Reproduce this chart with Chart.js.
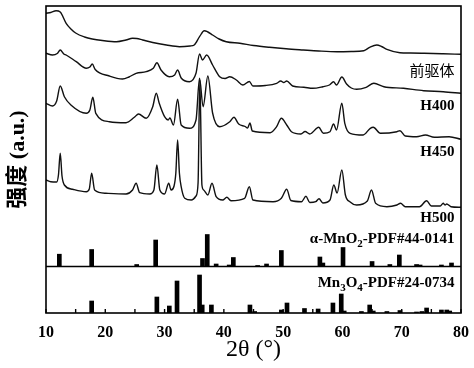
<!DOCTYPE html>
<html>
<head>
<meta charset="utf-8">
<script src="https://cdn.jsdelivr.net/npm/chart.js@4.4.0/dist/chart.umd.min.js"></script>
<style>
  body { margin: 0; background: #fff; }
  #wrap { width: 474px; height: 368px; }
</style>
</head>
<body>
<div id="wrap"><canvas id="xrd"></canvas></div>
<script>
// 2θ (deg), stacked intensity (a.u.)
const precursor = [[10.0,299.7],[10.8,300.5],[11.7,302.3],[12.4,301],[13.4,289.7],[14.2,284],[15.0,280],[16.5,276],[17.8,274],[19.5,272.5],[21.9,271.3],[23.5,273],[24.6,274.7],[25.3,274.5],[26.3,273],[28.0,270.5],[30.3,268],[32.5,266.3],[34.3,267],[35.0,268],[35.9,276.3],[36.7,282.3],[37.3,281],[38.1,278],[39.2,274],[40.4,271.3],[42.7,269.7],[45.0,267.5],[47.7,265.7],[50.5,264.2],[53.4,263],[56.0,262],[59.1,261.3],[61.5,261.5],[63.6,262.3],[64.6,265.7],[65.8,268],[66.6,266.5],[67.5,263.7],[69.7,260.3],[71.5,260],[73.8,259.7],[77.0,259.2],[80.0,258.7]];

const h400 = [[10.0,259.7],[11.1,258],[11.9,259.5],[12.4,263],[13.0,259],[13.4,258],[15.1,251.3],[16.8,244.7],[17.4,246],[17.8,249],[18.3,243.5],[20.7,237],[22.9,234],[24.0,236],[25.2,239.7],[26.9,241.3],[28.1,244.7],[28.7,250.3],[29.4,243],[30.8,236.3],[31.7,238],[32.2,243],[32.8,235],[34.2,231.3],[35.3,239.7],[35.9,259],[36.4,253],[37.1,258],[38.1,248],[39.3,236.3],[40.2,234.5],[41.0,236.3],[42.1,233],[43.2,228],[44.3,231.5],[44.9,227],[47.0,227.5],[48.9,229.7],[49.6,232],[50.1,230.5],[50.6,232],[51.6,227],[53.5,225.7],[55.0,224.7],[56.7,226.3],[57.8,228],[58.5,231.3],[59.0,228],[59.9,236],[60.7,229],[61.5,225],[62.4,223.7],[64.0,225.7],[65.3,229.7],[67.0,226.3],[70.3,224.7],[73.7,222.3],[77.0,221.3],[80.0,219.7]];

const h450 = [[10.0,209.7],[11.1,207],[11.8,212],[12.4,227],[13.1,216.3],[14.2,208],[16.8,199.7],[17.4,203],[17.9,215.7],[18.4,199.7],[20.7,191.3],[23.5,190.3],[24.9,195.7],[25.6,199],[26.9,194.7],[28.0,206.3],[28.6,219.7],[29.1,209.7],[30.0,196.3],[30.6,193],[30.9,195],[31.5,188],[32.2,213.7],[32.8,188],[34.2,184.7],[35.3,193],[35.9,234.7],[36.5,206.3],[37.3,237],[38.1,200],[39.3,186.3],[41.0,191.3],[41.7,195.7],[42.5,189],[43.6,186.5],[44.0,185],[44.4,190],[44.8,182],[47.8,180.3],[48.9,186.3],[49.7,194.7],[50.6,188],[51.4,181.3],[53.0,179],[53.7,181.5],[54.5,179],[56.0,185.7],[56.8,179.7],[57.9,181.3],[58.5,189],[59.0,183],[59.9,209.7],[60.4,189.7],[61.3,179.7],[63.5,178],[64.7,184.7],[65.2,185.7],[66.4,179.7],[69.2,181.3],[69.7,182.3],[70.6,177],[72.5,176.3],[74.0,178],[75.5,175.7],[78.0,176.3],[80.0,173.7]];

const h500 = [[10.0,133],[10.8,131.3],[11.8,131],[12.1,138],[12.4,159.7],[12.7,137],[13.1,128],[14.5,123.7],[16.8,121.3],[17.3,124],[17.7,139.7],[18.2,123],[20.1,119.7],[23.5,119],[24.6,123],[25.2,129.7],[25.8,120.3],[27.5,119],[28.2,123],[28.7,148],[29.2,123],[30.0,119],[30.7,129.7],[31.1,123],[31.6,127],[31.9,140],[32.2,173],[32.5,140],[32.8,126.3],[33.4,114.7],[34.5,113],[35.3,117],[35.65,130],[35.95,233],[36.3,128],[36.6,123],[37.3,118],[38.0,129.7],[38.7,116.3],[39.8,113],[40.5,115.7],[41.2,112.3],[43.5,114.7],[44.3,126.3],[44.9,113],[48.3,111.3],[49.7,114.7],[50.6,123.7],[51.3,112.5],[53.1,111.3],[53.85,116.7],[54.5,110.5],[55.5,111.3],[56.05,114.3],[56.7,110],[57.9,113],[58.55,128],[59.1,120],[59.9,143],[60.5,118],[61.3,111],[62.4,108],[64.2,112],[64.9,123],[65.6,109.7],[67.5,106.3],[69.2,108],[69.8,109.7],[70.6,106.3],[73.0,106.3],[74.2,112.3],[75.0,107],[76.5,107],[77.0,109.7],[77.3,108],[77.6,109],[78.3,106.3],[80.0,105.7]];

// reference cards: [2θ, relative intensity]
const mno2Card = [[12.25,12.3],[17.7,17],[25.3,2],[28.5,26.5],[36.4,8],[37.2,32],[38.7,2.5],[40.9,1.5],[41.6,9],[45.7,1],[47.2,2.5],[49.7,16],[56.2,9.5],[56.7,3.5],[60.1,19],[65.0,5],[68.0,2],[69.6,11.5],[72.5,2],[73.1,1.5],[76.7,1.5],[78.4,3.5]];
const mn3o4Card = [[17.7,12],[28.7,16],[30.8,7],[32.1,32],[35.9,38],[36.35,8],[37.9,8],[44.4,8],[45.2,1.5],[49.7,3],[50.65,10],[53.6,4.5],[55.9,4],[58.4,10],[59.8,19],[60.3,2],[63.2,1.5],[64.6,8],[65.2,2],[67.5,1.5],[69.7,2.5],[72.5,1],[73.4,1.5],[74.2,5],[76.7,3],[77.6,3],[78.1,2]];

const xTickLabels = [10, 20, 30, 40, 50, 60, 70, 80];
const traceNames = ['前驱体', 'H400', 'H450', 'H500'];

// layout constants (not data)
const Y_MAX = 307;
const MNO2_BASE = 46.5;   // divider between the two card panels
const LABEL_X = 78.9;
const labelY = [243, 207, 161, 95];
const SERIF = '"Liberation Serif", "Times New Roman", serif';

function toPoints(arr) {
    return arr.map(p => ({ x: p[0], y: p[1] }));
}

const sticks = mno2Card.map(p => ({ x: p[0], y: [MNO2_BASE, MNO2_BASE + p[1]] }))
    .concat(mn3o4Card.map(p => ({ x: p[0], y: [0, p[1]] })));

// draw rich text right aligned, parts = [[text, isSub], ...]
function drawRich(ctx, parts, xRight, y, size) {
    const subSize = Math.round(size * 0.7);
    let total = 0;
    parts.forEach(p => {
        ctx.font = 'bold ' + (p[1] ? subSize : size) + 'px ' + SERIF;
        total += ctx.measureText(p[0]).width;
    });
    let x = xRight - total;
    parts.forEach(p => {
        ctx.font = 'bold ' + (p[1] ? subSize : size) + 'px ' + SERIF;
        ctx.fillText(p[0], x, p[1] ? y + 5 : y);
        x += ctx.measureText(p[0]).width;
    });
}

const framePlugin = {
    id: 'frame',
    afterDatasetsDraw(chart) {
        const { ctx, chartArea: a, scales: { x, y } } = chart;
        ctx.save();
        ctx.strokeStyle = '#000';
        ctx.lineWidth = 1.6;
        ctx.strokeRect(a.left, a.top, a.right - a.left, a.bottom - a.top);
        const yd = y.getPixelForValue(MNO2_BASE);
        ctx.beginPath();
        ctx.moveTo(a.left, yd);
        ctx.lineTo(a.right, yd);
        ctx.stroke();
        // inward ticks
        ctx.lineWidth = 1.4;
        x.ticks.forEach(t => {
            const px = x.getPixelForValue(t.value);
            ctx.beginPath();
            ctx.moveTo(px, a.bottom);
            ctx.lineTo(px, a.bottom - 4);
            ctx.stroke();
        });

        // labels
        ctx.fillStyle = '#000';
        ctx.textBaseline = 'middle';
        const xr = x.getPixelForValue(LABEL_X);
        ctx.textAlign = 'right';
        ctx.font = '15px "Noto Sans CJK SC"';
        ctx.fillText(traceNames[0], xr, y.getPixelForValue(labelY[0]));
        ctx.font = 'bold 15px ' + SERIF;
        for (let i = 1; i < traceNames.length; i++) {
            ctx.fillText(traceNames[i], xr, y.getPixelForValue(labelY[i]));
        }
        ctx.textAlign = 'left';
        drawRich(ctx, [['α-MnO', false], ['2', true], ['-PDF#44-0141', false]], xr, y.getPixelForValue(74), 15);
        drawRich(ctx, [['Mn', false], ['3', true], ['O', false], ['4', true], ['-PDF#24-0734', false]], xr, y.getPixelForValue(30), 15);
        ctx.restore();
    }
};

const lineStyle = {
    type: 'line',
    borderColor: '#111',
    borderWidth: 1.4,
    pointRadius: 0,
    fill: false,
    cubicInterpolationMode: 'monotone'
};

new Chart(document.getElementById('xrd'), {
    data: {
        datasets: [
            { ...lineStyle, label: traceNames[0], data: toPoints(precursor) },
            { ...lineStyle, label: traceNames[1], data: toPoints(h400) },
            { ...lineStyle, label: traceNames[2], data: toPoints(h450) },
            { ...lineStyle, label: traceNames[3], data: toPoints(h500) },
            {
                type: 'bar',
                label: 'PDF',
                data: sticks,
                backgroundColor: '#000',
                barThickness: 4,
                borderSkipped: false
            }
        ]
    },
    options: {
        responsive: true,
        maintainAspectRatio: false,
        animation: false,
        layout: { padding: { top: 6, right: 13, left: 0, bottom: 0 } },
        plugins: { legend: { display: false }, tooltip: { enabled: false } },
        scales: {
            x: {
                type: 'linear',
                min: 10,
                max: 80,
                offset: false,
                grid: { display: false },
                border: { display: false },
                ticks: {
                    stepSize: 5,
                    autoSkip: false,
                    maxRotation: 0,
                    padding: 2,
                    color: '#000',
                    font: { family: SERIF, size: 16, weight: 'bold' },
                    callback: v => xTickLabels.includes(v) ? String(v) : ''
                },
                title: {
                    display: true,
                    text: '2θ (°)',
                    color: '#000',
                    font: { family: SERIF, size: 24 },
                    padding: { top: 4, bottom: 4 }
                },
                afterFit: s => { s.height = 55; }
            },
            y: {
                min: 0,
                max: Y_MAX,
                stacked: false,
                grid: { display: false },
                border: { display: false },
                ticks: { display: false },
                title: {
                    display: true,
                    text: '强度 (a.u.)',
                    color: '#000',
                    font: { family: '"Liberation Serif", "Noto Sans CJK SC"', size: 22, weight: 'bold' },
                    padding: { top: 5, bottom: 0 }
                },
                afterFit: s => { s.width = 46; }
            }
        }
    },
    plugins: [framePlugin]
});
</script>
</body>
</html>
